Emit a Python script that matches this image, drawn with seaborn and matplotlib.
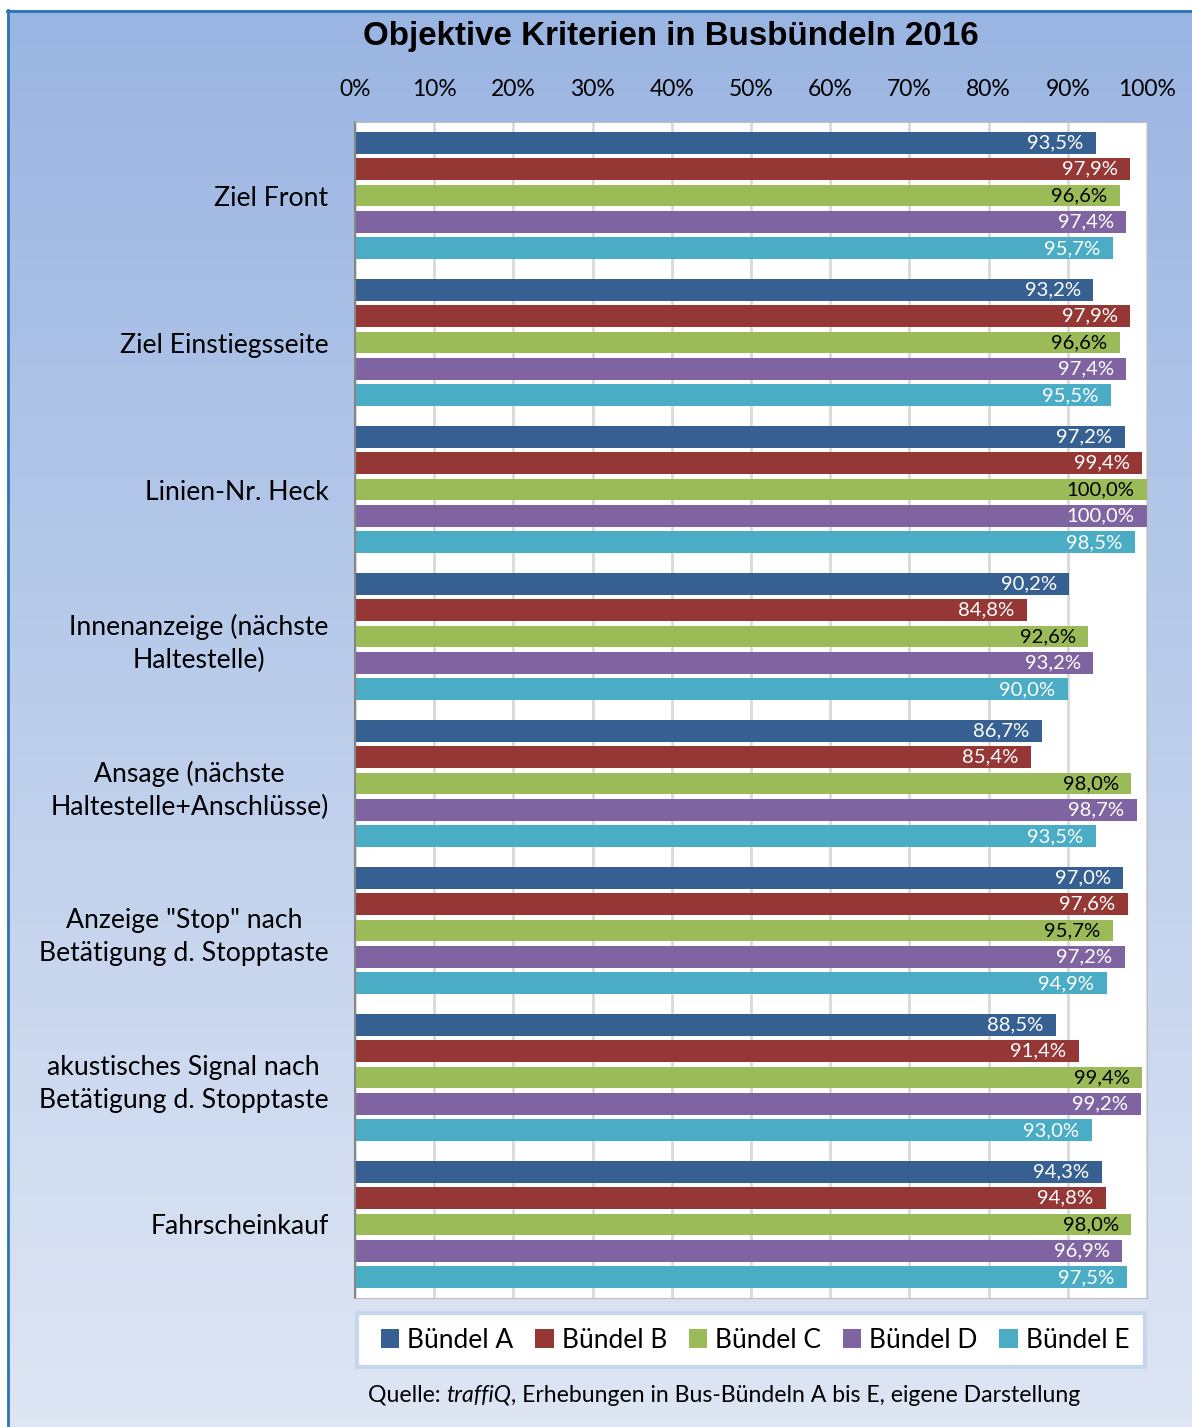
import numpy as np
import pandas as pd
import matplotlib.pyplot as plt
import seaborn as sns
from matplotlib.patches import Rectangle

# Daten (Anteil in %)
kriterien = [
    "Ziel Front",
    "Ziel Einstiegsseite",
    "Linien-Nr. Heck",
    "Innenanzeige (nächste\nHaltestelle)",
    "Ansage (nächste\nHaltestelle+Anschlüsse)",
    "Anzeige \"Stop\" nach\nBetätigung d. Stopptaste",
    "akustisches Signal nach\nBetätigung d. Stopptaste",
    "Fahrscheinkauf",
]
buendel = ["Bündel A", "Bündel B", "Bündel C", "Bündel D", "Bündel E"]
werte_a = [93.5, 93.2, 97.2, 90.2, 86.7, 97.0, 88.5, 94.3]
werte_b = [97.9, 97.9, 99.4, 84.8, 85.4, 97.6, 91.4, 94.8]
werte_c = [96.6, 96.6, 100.0, 92.6, 98.0, 95.7, 99.4, 98.0]
werte_d = [97.4, 97.4, 100.0, 93.2, 98.7, 97.2, 99.2, 96.9]
werte_e = [95.7, 95.5, 98.5, 90.0, 93.5, 94.9, 93.0, 97.5]
farben = ["#376092", "#953735", "#9BBB59", "#8064A2", "#4BACC6"]
label_farben = ["white", "white", "black", "white", "white"]
ticks = [0, 10, 20, 30, 40, 50, 60, 70, 80, 90, 100]

df = pd.DataFrame({
    "Kriterium": kriterien * 5,
    "Bündel": np.repeat(buendel, len(kriterien)),
    "Wert": werte_a + werte_b + werte_c + werte_d + werte_e,
})

W, H = 1192, 1427
plt.rcParams['font.family'] = ['Lato', 'DejaVu Sans']
fig = plt.figure(figsize=(W / 100, H / 100), dpi=100)
fig.patch.set_facecolor("white")

# Hintergrund mit Verlauf
bg = fig.add_axes([7 / W, 0, 1 - 7 / W, 1 - 10 / H], zorder=-5)
grad = np.linspace(0, 1, 256).reshape(-1, 1)
top = np.array([0x9A, 0xB5, 0xE2]) / 255
bot = np.array([0xDE, 0xE6, 0xF4]) / 255
img = top + (bot - top) * grad[..., None]
bg.imshow(img, aspect="auto", extent=(0, 1, 0, 1), origin="upper")
bg.set_xlim(0, 1)
bg.set_ylim(0, 1)
bg.axis("off")
bg.plot([0.001, 0.001], [0, 1], color="#2E75B6", lw=2, clip_on=False)
bg.plot([0, 1], [0.999, 0.999], color="#2E75B6", lw=2, clip_on=False)

ax = fig.add_axes([355 / W, 1 - 1298 / H, 792 / W, 1176 / H])
ax.set_facecolor("white")
sns.barplot(data=df, x="Wert", y="Kriterium", hue="Bündel", orient="h",
            palette=farben, width=0.9, gap=0.17, ax=ax, saturation=1,
            errorbar=None)

# Datenbeschriftungen innen am Ende
for cont, col in zip(ax.containers, label_farben):
    for bar in cont:
        v = bar.get_width()
        ax.annotate(f"{v:.1f}%".replace(".", ","),
                    (v, bar.get_y() + bar.get_height() / 2),
                    xytext=(-9, 0), textcoords="offset points",
                    ha="right", va="center", fontsize=14.6, color=col)

ax.set_xlim(0, 100)
ax.set_xticks(ticks)
ax.set_xticklabels([f"{t}%" for t in ticks])
ax.xaxis.tick_top()
ax.tick_params(axis="x", length=0, pad=16, labelsize=16.5)
ax.tick_params(axis="y", length=0, pad=19, labelsize=19.2)
for lbl in ax.get_yticklabels():
    lbl.set_multialignment("center")
    lbl.set_linespacing(1.4)
ax.set_xlabel("")
ax.set_ylabel("")
ax.grid(axis="x", color="#D9D9D9", lw=2)
ax.set_axisbelow(True)
for s in ["top", "right", "bottom"]:
    ax.spines[s].set_color("#BFBFBF")
ax.spines["left"].set_color("#868686")
ax.spines["left"].set_linewidth(1.5)

handles, labels = ax.get_legend_handles_labels()
ax.get_legend().remove()

fig.text(671 / W, 1 - 37 / H, "Objektive Kriterien in Busbündeln 2016",
         ha="center", va="center", fontsize=23.9, fontweight="bold",
         family="Liberation Sans")

# Legendenkasten
fig.patches.append(Rectangle((357 / W, 1 - 1367 / H), 788 / W, 54 / H,
                             transform=fig.transFigure, facecolor="white",
                             edgecolor="#C6D6EC", lw=3, zorder=1))
fig.legend(handles, labels, loc="center", ncol=5, frameon=False,
           bbox_to_anchor=(755 / W, 1 - 1340 / H), fontsize=19,
           handlelength=0.7, handleheight=0.7, handletextpad=0.3,
           columnspacing=0.82)

t1 = fig.text(368 / W, 1 - 1395 / H, "Quelle: ", ha="left", va="center",
              fontsize=16.6)
t2 = fig.text(0, 0, "traffiQ", fontsize=16.6, style="italic")
t3 = fig.text(0, 0, ", Erhebungen in Bus-Bündeln A bis E, eigene Darstellung",
              fontsize=16.6)
fig.canvas.draw()
r = fig.canvas.get_renderer()
bb1 = t1.get_window_extent(r)
t2.set_position((bb1.x1 / W, bb1.y0 / H))
t2.set_va("bottom")
bb2 = t2.get_window_extent(r)
t3.set_position((bb2.x1 / W, bb1.y0 / H))
t3.set_va("bottom")

fig.savefig("out.png", dpi=100)
